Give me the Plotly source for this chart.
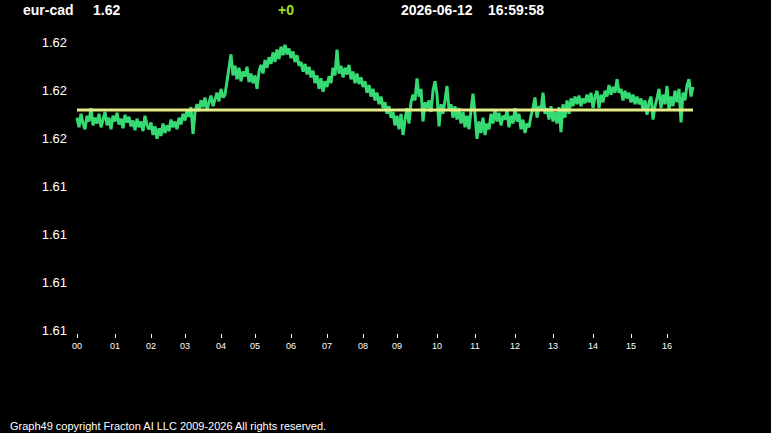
import plotly.graph_objects as go

# ---- data -------------------------------------------------------------
symbol = "eur-cad"
last_price = "1.62"
change = "+0"
stamp_date = "2026-06-12"
stamp_time = "16:59:58"
footer = "Graph49 copyright Fracton AI LLC 2009-2026 All rights reserved."

prev_close = 1.6161

prices = [
    1.61594, 1.61574, 1.61602, 1.61582, 1.61570, 1.61598, 1.61586, 1.61614, 1.61578, 1.61594,
    1.61582, 1.61602, 1.61574, 1.61590, 1.61606, 1.61578, 1.61594, 1.61570, 1.61598, 1.61586,
    1.61604, 1.61580, 1.61592, 1.61572, 1.61600, 1.61584, 1.61596, 1.61576, 1.61588, 1.61568,
    1.61592, 1.61574, 1.61586, 1.61566, 1.61598, 1.61578, 1.61570, 1.61584, 1.61558, 1.61576,
    1.61550, 1.61572, 1.61556, 1.61582, 1.61562, 1.61578, 1.61566, 1.61590, 1.61574, 1.61586,
    1.61570, 1.61594, 1.61580, 1.61602, 1.61588, 1.61610, 1.61596, 1.61616, 1.61560, 1.61606,
    1.61622, 1.61608, 1.61630, 1.61616, 1.61636, 1.61610, 1.61626, 1.61640, 1.61618, 1.61632,
    1.61646, 1.61628, 1.61654, 1.61636, 1.61642, 1.61670, 1.61698, 1.61726, 1.61682, 1.61702,
    1.61674, 1.61698, 1.61670, 1.61690, 1.61680, 1.61700, 1.61668, 1.61686, 1.61666, 1.61682,
    1.61654, 1.61690, 1.61704, 1.61686, 1.61714, 1.61698, 1.61720, 1.61706, 1.61730, 1.61710,
    1.61736, 1.61716, 1.61742, 1.61724, 1.61746, 1.61726, 1.61738, 1.61718, 1.61732, 1.61710,
    1.61724, 1.61702, 1.61710, 1.61690, 1.61706, 1.61684, 1.61700, 1.61678, 1.61692, 1.61666,
    1.61682, 1.61654, 1.61676, 1.61648, 1.61670, 1.61658, 1.61680, 1.61666, 1.61698, 1.61682,
    1.61736, 1.61686, 1.61702, 1.61678, 1.61698, 1.61684, 1.61704, 1.61674, 1.61690, 1.61666,
    1.61686, 1.61664, 1.61678, 1.61658, 1.61670, 1.61646, 1.61662, 1.61638, 1.61654, 1.61630,
    1.61646, 1.61622, 1.61638, 1.61614, 1.61626, 1.61602, 1.61618, 1.61594, 1.61606, 1.61578,
    1.61598, 1.61570, 1.61602, 1.61558, 1.61590, 1.61614, 1.61582, 1.61626, 1.61642, 1.61630,
    1.61676, 1.61638, 1.61654, 1.61586, 1.61626, 1.61614, 1.61630, 1.61606, 1.61650, 1.61670,
    1.61642, 1.61576, 1.61622, 1.61602, 1.61630, 1.61660, 1.61610, 1.61622, 1.61594, 1.61618,
    1.61590, 1.61614, 1.61582, 1.61606, 1.61574, 1.61598, 1.61570, 1.61610, 1.61644, 1.61602,
    1.61550, 1.61586, 1.61562, 1.61594, 1.61558, 1.61582, 1.61570, 1.61602, 1.61582, 1.61610,
    1.61586, 1.61604, 1.61578, 1.61598, 1.61590, 1.61610, 1.61574, 1.61598, 1.61582, 1.61614,
    1.61586, 1.61602, 1.61570, 1.61590, 1.61562, 1.61582, 1.61574, 1.61598, 1.61614, 1.61636,
    1.61594, 1.61618, 1.61610, 1.61646, 1.61602, 1.61614, 1.61590, 1.61618, 1.61586, 1.61606,
    1.61582, 1.61616, 1.61564, 1.61622, 1.61594, 1.61630, 1.61602, 1.61634, 1.61618, 1.61638,
    1.61622, 1.61640, 1.61618, 1.61634, 1.61624, 1.61642, 1.61626, 1.61646, 1.61614, 1.61638,
    1.61650, 1.61614, 1.61642, 1.61626, 1.61650, 1.61638, 1.61662, 1.61642, 1.61658, 1.61646,
    1.61674, 1.61646, 1.61654, 1.61630, 1.61650, 1.61634, 1.61646, 1.61626, 1.61642, 1.61622,
    1.61638, 1.61622, 1.61634, 1.61610, 1.61630, 1.61600, 1.61626, 1.61638, 1.61590, 1.61618,
    1.61634, 1.61654, 1.61614, 1.61642, 1.61622, 1.61660, 1.61610, 1.61638, 1.61618, 1.61650,
    1.61626, 1.61654, 1.61584, 1.61646, 1.61630, 1.61662, 1.61674, 1.61638, 1.61658,
]

# sample index at which each hour starts, and its label
hour_start_index = [0, 19, 37, 54, 72, 89, 107, 125, 143, 160, 180, 199, 219, 238, 258, 277, 295]
hour_labels = ["00", "01", "02", "03", "04", "05", "06", "07", "08", "09",
               "10", "11", "12", "13", "14", "15", "16"]

y_tick_values = [1.6175, 1.6165, 1.6155, 1.6145, 1.6135, 1.6125, 1.6115]
y_tick_labels = ["1.62", "1.62", "1.62", "1.61", "1.61", "1.61", "1.61"]

# ---- figure -----------------------------------------------------------
W, H = 771, 433
ML, MR, MT, MB = 68, 71, 30, 100
pw, ph = W - ML - MR, H - MT - MB

idx = list(range(len(prices)))

fig = go.Figure()
fig.add_trace(go.Scatter(x=idx, y=prices, mode="lines",
                         line=dict(color="#36da72", width=3, simplify=False),
                         hoverinfo="skip", showlegend=False))
fig.add_trace(go.Scatter(x=[idx[0], idx[-1]], y=[prev_close, prev_close], mode="lines",
                         line=dict(color="#e4ec84", width=3),
                         hoverinfo="skip", showlegend=False))

FONT = "Liberation Sans, Arial, sans-serif"


def px_x(p):
    return (p - ML) / pw


def px_y(p):
    return (H - MB - p) / ph


def head(text, xpx, color="white"):
    fig.add_annotation(text=f"<b>{text}</b>", xref="paper", yref="paper",
                       x=px_x(xpx), y=px_y(10), xanchor="left", yanchor="middle",
                       showarrow=False, font=dict(family=FONT, size=14, color=color))


head(symbol, 21)
head(last_price, 91)
head(change, 276, "#a0e020")
head(stamp_date, 399)
head(stamp_time, 486)

fig.add_annotation(text=footer, xref="paper", yref="paper",
                   x=px_x(8), y=px_y(426), xanchor="left", yanchor="middle",
                   showarrow=False, font=dict(family=FONT, size=11, color="white"))

y_top = prev_close + (110 - MT) / 48000
y_bot = prev_close - (H - MB - 110) / 48000

fig.update_layout(
    width=W, height=H,
    margin=dict(l=ML, r=MR, t=MT, b=MB, pad=0),
    paper_bgcolor="black", plot_bgcolor="black",
    font=dict(family=FONT, color="white"),
    xaxis=dict(range=[-4.5, 311.5], showgrid=False, zeroline=False, showline=False,
               tickmode="array", tickvals=hour_start_index, ticktext=hour_labels,
               ticks="outside", ticklen=4, tickwidth=1, tickcolor="white",
               tickfont=dict(family=FONT, size=9, color="white")),
    yaxis=dict(range=[y_bot, y_top], showgrid=False, zeroline=False, showline=False,
               tickmode="array", tickvals=y_tick_values, ticktext=y_tick_labels,
               ticks="", tickfont=dict(family=FONT, size=13, color="white")),
)

fig.write_html("out.html")
